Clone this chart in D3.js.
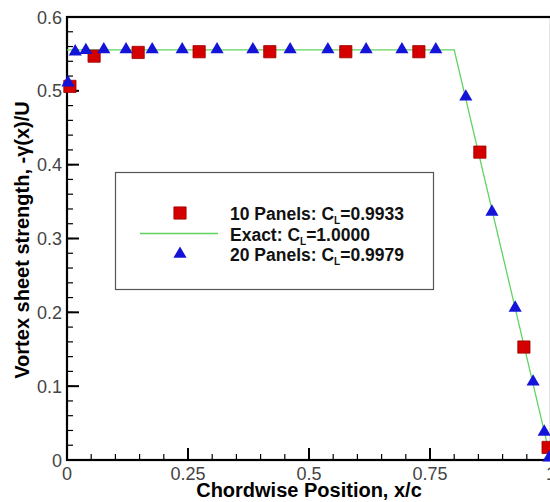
<!DOCTYPE html>
<html>
<head>
<meta charset="utf-8">
<script src="https://cdn.jsdelivr.net/npm/d3@7"></script>
<style>
  body { margin: 0; background: #fff; }
  svg { display: block; font-family: Arial, "Liberation Sans", sans-serif; }
</style>
</head>
<body>
<svg id="chart" width="550" height="502"></svg>
<script>
// 10 panel solution (squares)
var panels10X = [0.006, 0.056, 0.147, 0.273, 0.419, 0.576, 0.727, 0.853, 0.944, 0.994];
var panels10Y = [0.506, 0.547, 0.552, 0.553, 0.553, 0.553, 0.553, 0.417, 0.153, 0.017];

// 20 panel solution (triangles)
var panels20X = [0.002, 0.017, 0.039, 0.076, 0.122, 0.176, 0.238, 0.310, 0.384, 0.461,
                 0.539, 0.618, 0.692, 0.762, 0.824, 0.878, 0.926, 0.963, 0.986, 0.996];
var panels20Y = [0.511, 0.553, 0.555, 0.556, 0.556, 0.556, 0.556, 0.556, 0.556, 0.556,
                 0.556, 0.556, 0.556, 0.556, 0.492, 0.336, 0.206, 0.106, 0.038, 0.003];

// exact solution
var exactX = [0, 0.8, 1.0];
var exactY = [0.5556, 0.5556, 0];

var xTicks = [0, 0.25, 0.5, 0.75, 1];
var xTickLabels = ["0", "0.25", "0.5", "0.75", "1"];
var yTicks = [0, 0.1, 0.2, 0.3, 0.4, 0.5, 0.6];
var yTickLabels = ["0", "0.1", "0.2", "0.3", "0.4", "0.5", "0.6"];

var legendLabels = [
    {pre: "10 Panels: C", sub: "L", post: "=0.9933", kind: "square"},
    {pre: "Exact:  C", sub: "L", post: "=1.0000", kind: "line"},
    {pre: "20 Panels: C", sub: "L", post: "=0.9979", kind: "triangle"}
];

var svg = d3.select("#chart");
var pLeft = 67, pTop = 17, pRight = 551, pBottom = 460;

var x = d3.scaleLinear().domain([0, 1]).range([pLeft, pRight]);
var y = d3.scaleLinear().domain([0, 0.6]).range([pBottom, pTop]);

// minor ticks
var xMinor = d3.range(0, 1.0001, 0.05);
var yMinor = d3.range(0, 0.6001, 0.02);

var ticks = svg.append("g").attr("stroke", "#000");
ticks.selectAll(".xminor").data(xMinor).enter().append("line")
    .attr("x1", d => x(d)).attr("x2", d => x(d))
    .attr("y1", pBottom).attr("y2", pBottom - 6).attr("stroke-width", 1.2);
ticks.selectAll(".xmajor").data(xTicks).enter().append("line")
    .attr("x1", d => x(d)).attr("x2", d => x(d))
    .attr("y1", pBottom).attr("y2", pBottom - 12).attr("stroke-width", 2);
ticks.selectAll(".yminor").data(yMinor).enter().append("line")
    .attr("y1", d => y(d)).attr("y2", d => y(d))
    .attr("x1", pLeft).attr("x2", pLeft + 6).attr("stroke-width", 1.2);
ticks.selectAll(".ymajor").data(yTicks).enter().append("line")
    .attr("y1", d => y(d)).attr("y2", d => y(d))
    .attr("x1", pLeft).attr("x2", pLeft + 12).attr("stroke-width", 2);

// frame
svg.append("rect")
    .attr("x", pLeft).attr("y", pTop)
    .attr("width", pRight - pLeft).attr("height", pBottom - pTop)
    .attr("fill", "none").attr("stroke", "#000").attr("stroke-width", 2.2);

// tick labels
svg.selectAll(".xlab").data(xTicks).enter().append("text")
    .attr("x", d => x(d)).attr("y", 480)
    .attr("text-anchor", "middle").attr("font-size", 18).attr("fill", "#444")
    .text((d, i) => xTickLabels[i]);
svg.selectAll(".ylab").data(yTicks).enter().append("text")
    .attr("x", 62).attr("y", d => y(d) + 6.5)
    .attr("text-anchor", "end").attr("font-size", 18).attr("fill", "#444")
    .text((d, i) => yTickLabels[i]);

// axis titles
svg.append("text")
    .attr("x", 309).attr("y", 497)
    .attr("text-anchor", "middle").attr("font-size", 20).attr("font-weight", "bold")
    .text("Chordwise Position, x/c");
svg.append("text")
    .attr("transform", "translate(29,240) rotate(-90)")
    .attr("text-anchor", "middle").attr("font-size", 20).attr("font-weight", "bold")
    .text("Vortex sheet strength, -γ(x)/U");

// exact line
var exact = exactX.map((d, i) => [d, exactY[i]]);
svg.append("path")
    .datum(exact)
    .attr("d", d3.line().x(d => x(d[0])).y(d => y(d[1])))
    .attr("fill", "none").attr("stroke", "#5fd35f").attr("stroke-width", 1.3);

var sqSym = d3.symbol().type(d3.symbolSquare).size(150);
var triSym = d3.symbol().type(d3.symbolTriangle).size(75);

var p10 = panels10X.map((d, i) => [d, panels10Y[i]]);
svg.selectAll(".sq").data(p10).enter().append("path")
    .attr("d", sqSym)
    .attr("transform", d => "translate(" + x(d[0]) + "," + y(d[1]) + ")")
    .attr("fill", "#d40000").attr("stroke", "#a00000").attr("stroke-width", 0.8);

var p20 = panels20X.map((d, i) => [d, panels20Y[i]]);
svg.selectAll(".tri").data(p20).enter().append("path")
    .attr("d", triSym)
    .attr("transform", d => "translate(" + x(d[0]) + "," + y(d[1]) + ")")
    .attr("fill", "#1414d8");

// legend
var lg = svg.append("g");
lg.append("rect")
    .attr("x", 115.5).attr("y", 172.5).attr("width", 318).attr("height", 117)
    .attr("fill", "#fff").attr("stroke", "#555").attr("stroke-width", 1.2);

legendLabels.forEach(function(l, i) {
    var base = 220 + i * 20.5;
    var cy = base - 7;
    if (l.kind == "square") {
        lg.append("path").attr("d", sqSym)
          .attr("transform", "translate(180," + cy + ")")
          .attr("fill", "#d40000").attr("stroke", "#a00000").attr("stroke-width", 0.8);
    } else if (l.kind == "line") {
        lg.append("line").attr("x1", 140).attr("x2", 218).attr("y1", cy).attr("y2", cy)
          .attr("stroke", "#5fd35f").attr("stroke-width", 1.3);
    } else {
        lg.append("path").attr("d", triSym)
          .attr("transform", "translate(180," + cy + ")")
          .attr("fill", "#1414d8");
    }
    var t = lg.append("text").attr("x", 230).attr("y", base)
        .attr("font-size", 17.5).attr("font-weight", "bold").attr("fill", "#111");
    t.append("tspan").text(l.pre);
    t.append("tspan").attr("font-size", 10).attr("dy", 4).text(l.sub);
    t.append("tspan").attr("dy", -4).text(l.post);
});
</script>
</body>
</html>
